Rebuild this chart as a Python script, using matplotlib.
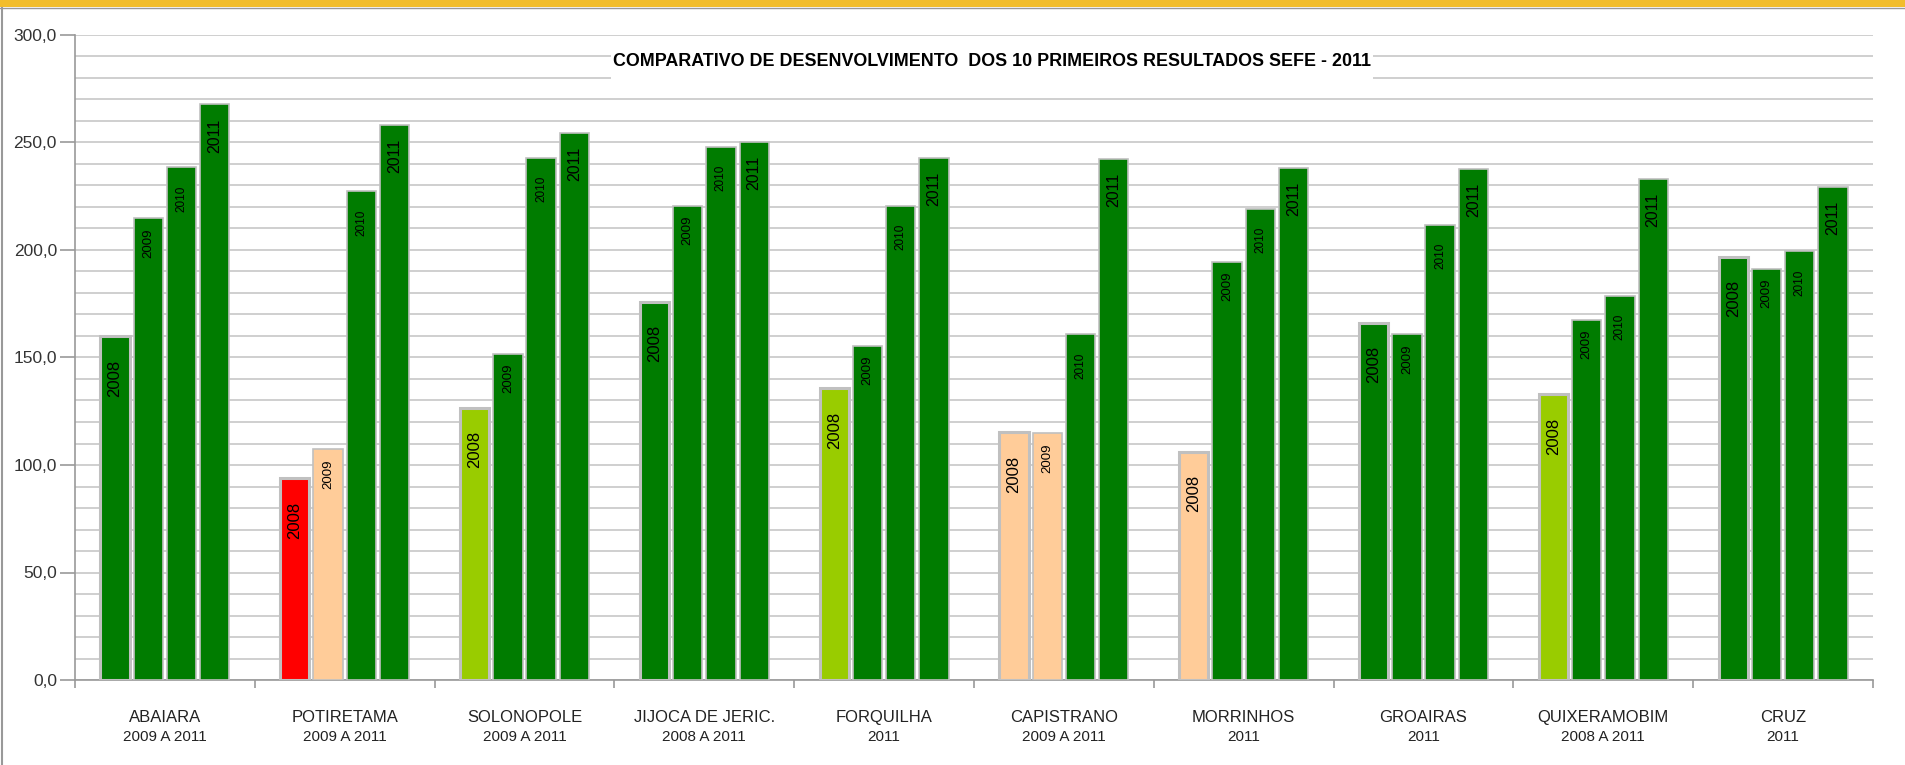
import numpy as np
import matplotlib
matplotlib.use("Agg")
import matplotlib.pyplot as plt
from matplotlib.ticker import MultipleLocator, FuncFormatter
from matplotlib.patches import Rectangle
from matplotlib.lines import Line2D

# data
municipios = ["ABAIARA", "POTIRETAMA", "SOLONOPOLE", "JIJOCA DE JERIC.", "FORQUILHA",
              "CAPISTRANO", "MORRINHOS", "GROAIRAS", "QUIXERAMOBIM", "CRUZ"]
periodos = ["2009 A 2011", "2009 A 2011", "2009 A 2011", "2008 A 2011", "2011",
            "2009 A 2011", "2011", "2011", "2008 A 2011", "2011"]
anos = ["2008", "2009", "2010", "2011"]

v2008 = [160.1, 93.8, 126.7, 176.0, 135.7, 115.2, 106.2, 166.2, 132.9, 196.9]
v2009 = [214.7, 107.3, 151.8, 220.6, 155.5, 114.7, 194.3, 160.8, 167.4, 191.2]
v2010 = [238.4, 227.3, 242.9, 248.1, 220.5, 160.8, 219.1, 211.6, 178.8, 199.4]
v2011 = [267.7, 258.0, 254.3, 250.4, 242.9, 242.2, 238.3, 237.7, 233.2, 229.5]

# situacao de cada barra: V = verde, L = verde claro, P = pessego, R = vermelho
sit2008 = ["V", "R", "L", "V", "L", "P", "P", "V", "L", "V"]
sit2009 = ["V", "P", "V", "V", "V", "P", "V", "V", "V", "V"]
sit2010 = ["V"] * 10
sit2011 = ["V"] * 10

series = [v2008, v2009, v2010, v2011]
situacoes = [sit2008, sit2009, sit2010, sit2011]
cores = {"V": "#007c00", "L": "#99cc00", "P": "#ffcc99", "R": "#ff0000"}

W, H = 1905, 765
fig = plt.figure(figsize=(W / 100, H / 100), dpi=100)
ax = fig.add_axes([75 / W, 85 / H, 1798 / W, 645 / H])

n = len(municipios)
centros = np.arange(n) + 0.5
passo = 0.185
larg = 0.163
label_size = [12, 9.5, 8.5, 11.5]
label_off = [-17, -7, -13, -10]

for j, (vals, sits) in enumerate(zip(series, situacoes)):
    xs = centros + (j - 1.5) * passo
    ax.bar(xs, vals, width=larg, color=[cores[s] for s in sits],
           edgecolor="#c0c0c0", linewidth=2.2 if j == 0 else 1.2, zorder=3)
    for x, v in zip(xs, vals):
        ax.annotate(anos[j], (x, v), xytext=(0, label_off[j]), textcoords="offset points",
                    rotation=90, ha="center", va="top", fontsize=label_size[j],
                    family="Liberation Sans", color="black", zorder=4)

ax.set_xlim(0, n)
ax.set_ylim(0, 300)
ax.yaxis.set_major_locator(MultipleLocator(50))
ax.yaxis.set_minor_locator(MultipleLocator(10))
ax.yaxis.set_major_formatter(FuncFormatter(lambda v, p: f"{v:.1f}".replace(".", ",")))
ax.grid(axis="y", which="both", color="#cccccc", linewidth=1.3, zorder=0)
ax.set_axisbelow(True)

ax.set_xticks(np.arange(n + 1))
ax.set_xticklabels([])
ax.tick_params(axis="x", length=6, color="#999999", width=1.2)
ax.tick_params(axis="y", which="major", length=11, color="#999999", width=1.2, pad=2,
               labelsize=12.5, labelcolor="#333333")
ax.tick_params(axis="y", which="minor", length=0)
for lbl in ax.get_yticklabels():
    lbl.set_family("Liberation Sans")

for s in ["top", "right"]:
    ax.spines[s].set_visible(False)
for s in ["left", "bottom"]:
    ax.spines[s].set_color("#999999")
    ax.spines[s].set_linewidth(1.2)

# nomes dos municipios
for c, nome, per in zip(centros, municipios, periodos):
    ax.text(c, -17.5, nome, ha="center", va="center", fontsize=12,
            family="Liberation Sans", color="#222222")
    ax.text(c, -26.5, per, ha="center", va="center", fontsize=11,
            family="Liberation Sans", color="#222222")

# titulo com fundo branco por cima das linhas de grade
ax.add_patch(Rectangle((2.98, 275), 4.24, 21, facecolor="white", edgecolor="none", zorder=2))
ax.text(5.1, 287.5, "COMPARATIVO DE DESENVOLVIMENTO  DOS 10 PRIMEIROS RESULTADOS SEFE - 2011",
        ha="center", va="center", fontsize=12.9, fontweight="bold",
        family="Liberation Sans", color="black", zorder=5)

# moldura
fig.add_artist(Rectangle((0, 1 - 7 / H), 1, 7 / H, transform=fig.transFigure,
                         facecolor="#f2bd2b", edgecolor="none"))
fig.add_artist(Line2D([0, 1], [1 - 8 / H, 1 - 8 / H], transform=fig.transFigure,
                      color="#999999", linewidth=1))
fig.add_artist(Line2D([1.5 / W, 1.5 / W], [0, 1 - 8 / H], transform=fig.transFigure,
                      color="#999999", linewidth=1.5))

fig.savefig("out.png", dpi=100)
